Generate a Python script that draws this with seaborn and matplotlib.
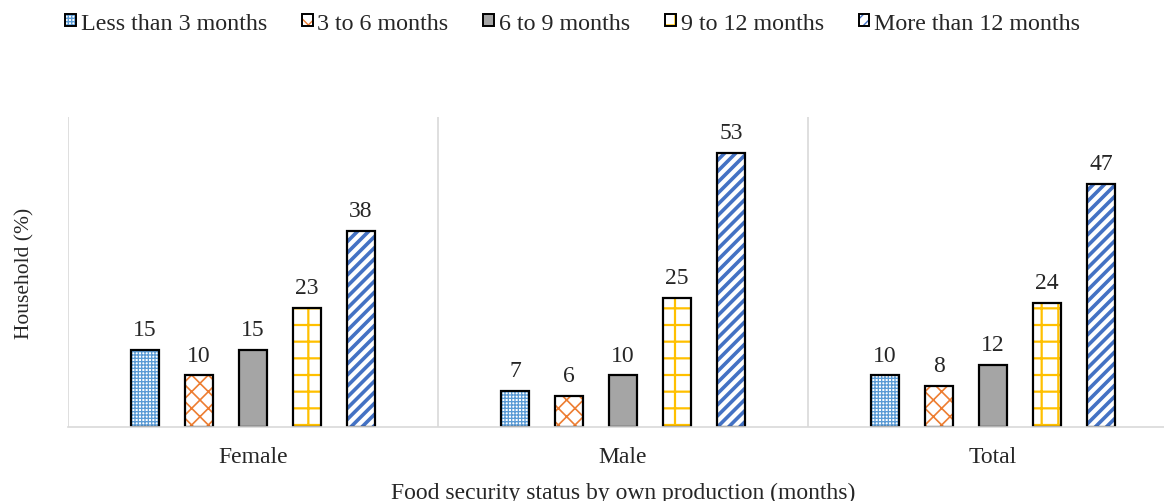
import matplotlib
matplotlib.use('Agg')
import matplotlib.pyplot as plt
from matplotlib.patches import Patch, Rectangle
from matplotlib.legend_handler import HandlerTuple
import pandas as pd
import seaborn as sns

# data
groups = ['Female', 'Male', 'Total']
periods = ['Less than 3 months', '3 to 6 months', '6 to 9 months',
           '9 to 12 months', 'More than 12 months']
female = [15, 10, 15, 23, 38]
male = [7, 6, 10, 25, 53]
total = [10, 8, 12, 24, 47]

# styles per period
fill_colors = ['white', 'white', '#A5A5A5', 'white', 'white']
hatch_colors = ['#5B9BD5', '#ED7D31', '#A5A5A5', '#FFC000', '#4472C4']
hatches = ['+++++', 'xx', '', '+', '///']
hatch_widths = [0.95, 1.2, 1.0, 1.6, 2.6]

rows = []
for g, vals in zip(groups, [female, male, total]):
    for p, v in zip(periods, vals):
        rows.append({'group': g, 'period': p, 'value': v})
df = pd.DataFrame(rows)

sns.set_style('white')
plt.rcParams['font.family'] = ['Liberation Serif', 'DejaVu Serif']

fig = plt.figure(figsize=(11.64, 5.02), dpi=100)
ax = fig.add_axes([68 / 1164, 1 - 428 / 502, 1110 / 1164, 310 / 502])

sns.barplot(data=df, x='group', y='value', hue='period', hue_order=periods,
            order=groups, width=0.73, gap=0.466, palette=hatch_colors,
            legend=False, ax=ax)

handles = []
for i, cont in enumerate(ax.containers):
    for bar in cont:
        bar.set_facecolor(fill_colors[i])
        bar.set_edgecolor(hatch_colors[i])
        bar.set_linewidth(0)
        bar.set_hatch(hatches[i])
        if hasattr(bar, 'set_hatch_linewidth'):
            bar.set_hatch_linewidth(hatch_widths[i])
        ax.add_patch(Rectangle(bar.get_xy(), bar.get_width(), bar.get_height(),
                               fill=False, edgecolor='black', linewidth=1.6,
                               zorder=bar.get_zorder() + 0.1))
    ax.bar_label(cont, fmt='%d', padding=7, fontsize=17)
    h1 = Patch(facecolor=fill_colors[i], edgecolor=hatch_colors[i],
               hatch=hatches[i], linewidth=0)
    h2 = Patch(facecolor='none', edgecolor='black', linewidth=1.4)
    handles.append((h1, h2))

ax.set_xlim(-0.5, 2.5)
ax.set_ylim(0, 60)
ax.set_yticks([])
ax.set_xticks([-0.5, 0.5, 1.5, 2.5], minor=True)
ax.grid(which='minor', axis='x', color='#D9D9D9', linewidth=1.2)
ax.tick_params(axis='x', which='both', length=0, labelsize=17, pad=14)
for s in ['top', 'right', 'left']:
    ax.spines[s].set_visible(False)
ax.spines['bottom'].set_color('#D9D9D9')
ax.spines['bottom'].set_linewidth(1.2)

ax.set_xlabel('Food security status by own production (months)', fontsize=17,
              labelpad=10)
ax.set_ylabel('Household (%)', fontsize=15.5, labelpad=24)

fig.legend(handles, periods, handler_map={tuple: HandlerTuple(ndivide=1)},
           loc='center', bbox_to_anchor=(0.492, 0.952), ncol=5, frameon=False,
           fontsize=17.3, handlelength=0.45, handleheight=0.45,
           handletextpad=0.2, columnspacing=1.45)

fig.savefig('out.png', dpi=100)
